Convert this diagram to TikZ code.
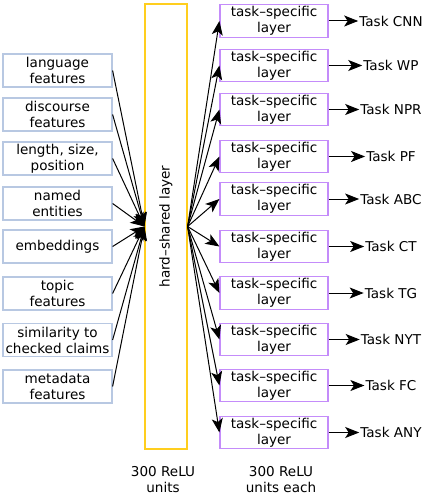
\documentclass[tikz,border=0pt]{standalone}
\usepackage{fontspec}
\setmainfont{DejaVu Sans}
\usetikzlibrary{arrows.meta}

\definecolor{featblue}{RGB}{184,200,226}
\definecolor{sharedgold}{RGB}{255,206,30}
\definecolor{taskpurple}{RGB}{196,140,250}

\tikzset{
	feat/.style={draw=featblue,line width=1.2pt,inner sep=0pt,minimum width=109bp,minimum height=33bp,align=center},
	tasklayer/.style={draw=taskpurple,line width=1.2pt,inner sep=0pt,minimum width=108bp,minimum height=32.5bp,align=center},
	taskout/.style={inner sep=1pt},
	arr/.style={-{Stealth[length=14bp,width=11bp,inset=3.5bp]},line width=1pt}
}

\begin{document}
\begin{tikzpicture}[x=1bp,y=-1bp,font=\fontsize{13.6}{16}\selectfont]
	\useasboundingbox (0,0) rectangle (431,501);

	\node[draw=sharedgold,line width=1.2pt,minimum width=42bp,minimum height=445bp,inner sep=0pt] (shared) at (166,226.5) {};
	\node[rotate=90] (sharedlbl) at (166,226.5) {hard–shared layer};

	\node[feat] (f1) at (57.5,70.5) {language\\features};
	\node[feat] (f2) at (57.5,114.5) {discourse\\features};
	\node[feat] (f3) at (57.5,158.5) {length, size,\\position};
	\node[feat] (f4) at (57.5,203.5) {named\\entities};
	\node[feat] (f5) at (57.5,246.5) {embeddings};
	\node[feat] (f6) at (57.5,293.5) {topic\\features};
	\node[feat] (f7) at (57.5,340) {similarity to\\checked claims};
	\node[feat] (f8) at (57.5,386.5) {metadata\\features};

	\node[tasklayer] (t1) at (274,21) {task–specific\\layer};
	\node[tasklayer] (t2) at (274,65.5) {task–specific\\layer};
	\node[tasklayer] (t3) at (274,109.5) {task–specific\\layer};
	\node[tasklayer] (t4) at (274,156.5) {task–specific\\layer};
	\node[tasklayer] (t5) at (274,199) {task–specific\\layer};
	\node[tasklayer] (t6) at (274,246.5) {task–specific\\layer};
	\node[tasklayer] (t7) at (274,293) {task–specific\\layer};
	\node[tasklayer] (t8) at (274,339.5) {task–specific\\layer};
	\node[tasklayer] (t9) at (274,385.5) {task–specific\\layer};
	\node[tasklayer] (t10) at (274,432.5) {task–specific\\layer};

	\node[taskout] (o1) at (391,21) {Task CNN};
	\node[taskout] (o2) at (391,65.5) {Task WP};
	\node[taskout] (o3) at (391,109.5) {Task NPR};
	\node[taskout] (o4) at (391,156.5) {Task PF};
	\node[taskout] (o5) at (391,199) {Task ABC};
	\node[taskout] (o6) at (391,246.5) {Task CT};
	\node[taskout] (o7) at (391,293) {Task TG};
	\node[taskout] (o8) at (391,339.5) {Task NYT};
	\node[taskout] (o9) at (391,385.5) {Task FC};
	\node[taskout] (o10) at (391,432.5) {Task ANY};

	\node[align=center] (units1) at (163,480) {300 ReLU\\units};
	\node[align=center] (units2) at (281,480) {300 ReLU\\units each};

	\draw[arr] (f1.east) -- (shared.west);
	\draw[arr] (f2.east) -- (shared.west);
	\draw[arr] (f3.east) -- (shared.west);
	\draw[arr] (f4.east) -- (shared.west);
	\draw[arr] (f5.east) -- (shared.west);
	\draw[arr] (f6.east) -- (shared.west);
	\draw[arr] (f7.east) -- (shared.west);
	\draw[arr] (f8.east) -- (shared.west);

	\draw[arr] (shared.east) -- (t1.west);
	\draw[arr] (shared.east) -- (t2.west);
	\draw[arr] (shared.east) -- (t3.west);
	\draw[arr] (shared.east) -- (t4.west);
	\draw[arr] (shared.east) -- (t5.west);
	\draw[arr] (shared.east) -- (t6.west);
	\draw[arr] (shared.east) -- (t7.west);
	\draw[arr] (shared.east) -- (t8.west);
	\draw[arr] (shared.east) -- (t9.west);
	\draw[arr] (shared.east) -- (t10.west);

	\draw[arr] (t1.east) -- (o1.west);
	\draw[arr] (t2.east) -- (o2.west);
	\draw[arr] (t3.east) -- (o3.west);
	\draw[arr] (t4.east) -- (o4.west);
	\draw[arr] (t5.east) -- (o5.west);
	\draw[arr] (t6.east) -- (o6.west);
	\draw[arr] (t7.east) -- (o7.west);
	\draw[arr] (t8.east) -- (o8.west);
	\draw[arr] (t9.east) -- (o9.west);
	\draw[arr] (t10.east) -- (o10.west);

\end{tikzpicture}
\end{document}
